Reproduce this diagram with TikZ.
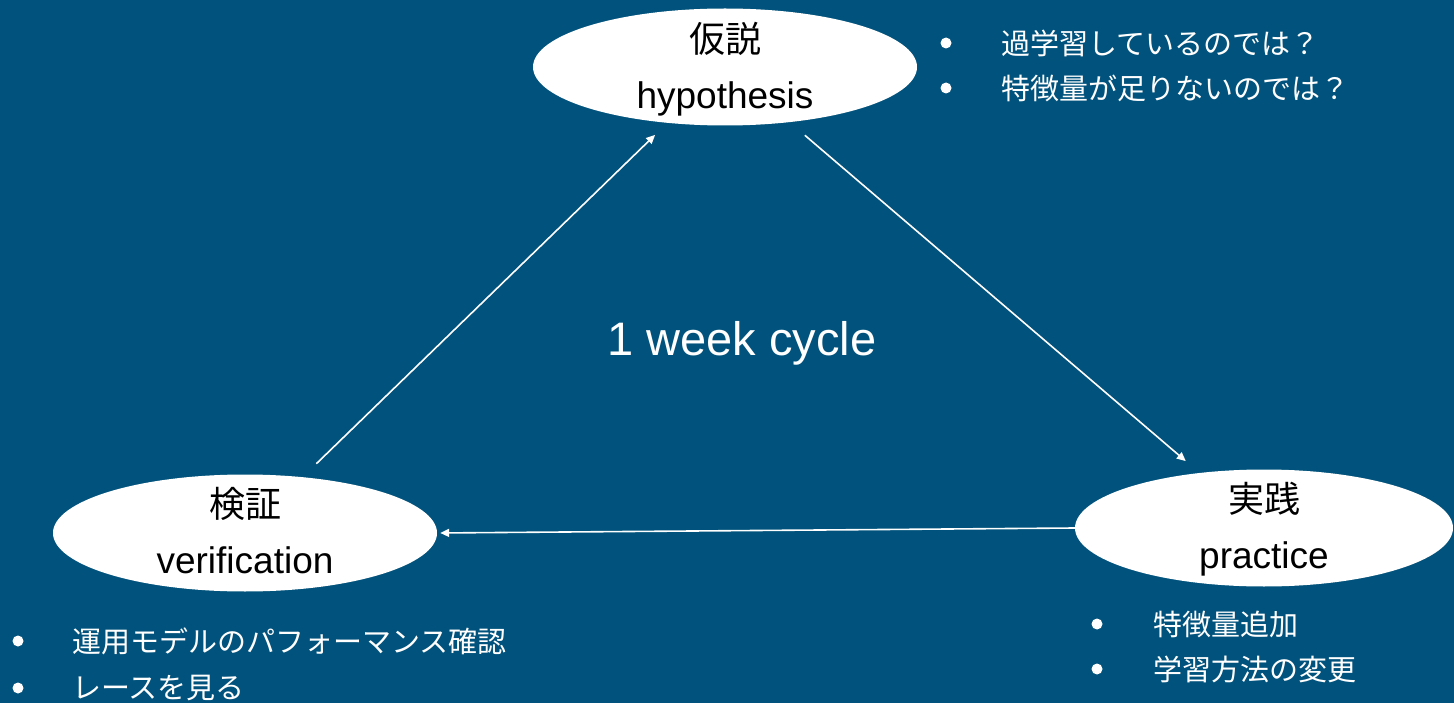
\documentclass[tikz,border=0pt]{standalone}
\usepackage{fontspec}
\setmainfont{Liberation Sans}
\newfontfamily\jp{Noto Sans CJK JP}
\usetikzlibrary{shapes.geometric,arrows.meta}
\definecolor{bgblue}{RGB}{1,82,124}
\tikzset{
  ell/.style={ellipse,fill=white,draw=none,inner sep=0pt,minimum width=384pt,minimum height=117pt},
  jplbl/.style={inner sep=0pt,anchor=center,font=\jp\fontsize{36}{40}\selectfont,text=black},
  enlbl/.style={inner sep=0pt,anchor=base,font=\fontsize{37}{42}\selectfont,text=black},
  arr/.style={draw=white,line width=1.6pt,-{Triangle[length=9pt,width=8pt]}},
  dot/.style={circle,fill=white,inner sep=0pt,minimum size=11pt},
  item/.style={inner sep=0pt,anchor=west,text=white,font=\jp\fontsize{29}{32}\selectfont},
}
\begin{document}
\begin{tikzpicture}[x=1pt,y=-1pt]
\fill[bgblue] (0,0) rectangle (1454,703);
\useasboundingbox (0,0) rectangle (1454,703);
% ellipses
\node[ell] (hyp) at (725,67) {};
\node[ell] (ver) at (245,533) {};
\node[ell,minimum width=378pt] (pra) at (1264,528) {};
% labels
\node[jplbl] (hypj) at (725,39) {仮説};
\node[enlbl] (hype) at (725,108.5) {hypothesis};
\node[jplbl] (verj) at (245,504) {検証};
\node[enlbl] (vere) at (245,573.5) {verification};
\node[jplbl] (praj) at (1264,499) {実践};
\node[enlbl] (prae) at (1264,568.5) {practice};
% centre text
\node[inner sep=0pt,text=white,font=\fontsize{47}{52}\selectfont] (cycle) at (742,343) {1 week cycle};
% connectors
\draw[arr,shorten <=19pt,shorten >=17pt] (ver) -- (hyp);
\draw[arr,shorten <=20pt,shorten >=18pt] (hyp) -- (pra);
\draw[arr,shorten <=-2pt,shorten >=3pt] (pra.west) -- (ver.east);
% bullet lists
\node[dot] (d1) at (946,43) {};
\node[item] (t1) at (1001,43) {過学習しているのでは？};
\node[dot] (d2) at (946,88) {};
\node[item] (t2) at (1001,88) {特徴量が足りないのでは？};
\node[dot] (d3) at (18,641) {};
\node[item] (t3) at (72,641) {運用モデルのパフォーマンス確認};
\node[dot] (d4) at (18,688) {};
\node[item] (t4) at (72,688) {レースを見る};
\node[dot] (d5) at (1097,624) {};
\node[item] (t5) at (1153,624) {特徴量追加};
\node[dot] (d6) at (1097,669) {};
\node[item] (t6) at (1153,669) {学習方法の変更};
\end{tikzpicture}
\end{document}
